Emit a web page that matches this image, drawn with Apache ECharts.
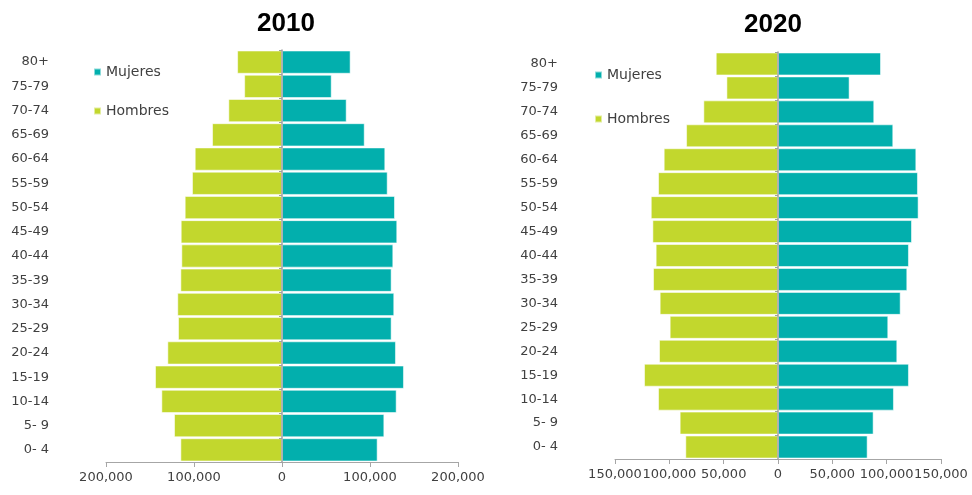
<!DOCTYPE html>
<html>
<head>
<meta charset="utf-8">
<script src="https://cdn.jsdelivr.net/npm/echarts@6/dist/echarts.min.js"></script>
<style>
  html, body { margin: 0; padding: 0; background: #fff; }
  #chart { width: 972px; height: 495px; }
</style>
</head>
<body>
<div id="chart"></div>
<script>
// grupos de edad (de abajo hacia arriba)
const ageGroups = ['0- 4', '5- 9', '10-14', '15-19', '20-24', '25-29', '30-34', '35-39',
  '40-44', '45-49', '50-54', '55-59', '60-64', '65-69', '70-74', '75-79', '80+'];

// 2010
const hombres2010 = [115500, 122700, 137100, 144300, 130300, 118200, 119000, 115500,
  114400, 115100, 110600, 102300, 99200, 79500, 61000, 43000, 51000];
const mujeres2010 = [108700, 116300, 130300, 138600, 129500, 124600, 127600, 124600,
  126500, 131000, 128400, 120100, 117400, 94000, 73500, 56500, 78000];

// 2020
const hombres2020 = [85300, 90500, 110400, 123300, 109500, 99700, 108900, 115000,
  112600, 115600, 117100, 110400, 105200, 84600, 68700, 47500, 57300];
const mujeres2020 = [82500, 88000, 106700, 120500, 109800, 101500, 112900, 119000,
  120500, 123300, 129400, 128800, 127300, 106100, 88600, 65900, 94800];

const GREEN = '#c2d72d';
const TEAL = '#02afad';
const TXT = '#404040';
const FONT = 'DejaVu Sans';

const chart = echarts.init(document.getElementById('chart'));

const fmt = v => Math.abs(v).toLocaleString('en-US');

function xAxisFor(idx, lim, step) {
  return {
    type: 'value', gridIndex: idx, min: -lim, max: lim, interval: step,
    splitLine: { show: false },
    axisLine: { show: true, lineStyle: { color: '#a6a6a6' } },
    axisTick: { show: true, length: 5, lineStyle: { color: '#a6a6a6' } },
    axisLabel: { color: TXT, fontFamily: FONT, fontSize: 13, margin: 9, formatter: fmt }
  };
}

function yAxesFor(idx) {
  return [
    {
      type: 'category', gridIndex: idx, data: ageGroups,
      axisLine: { show: false }, axisTick: { show: false },
      axisLabel: { color: TXT, fontFamily: FONT, fontSize: 13, margin: 57 }
    },
    {
      // linea central en x = 0
      type: 'category', gridIndex: idx, data: ageGroups, position: 'left', z: 10,
      axisLine: { show: true, onZero: true, onZeroAxisIndex: idx, lineStyle: { color: '#a0a0a0', width: 1.5 } },
      axisTick: { show: true, length: 3, lineStyle: { color: '#a0a0a0' } },
      axisLabel: { show: false }
    }
  ];
}

function barSeries(name, data, idx, yIdx, color) {
  return {
    name, type: 'bar', data, xAxisIndex: idx, yAxisIndex: yIdx,
    barCategoryGap: '4%',
    itemStyle: { color, borderColor: 'rgba(255,255,255,0.55)', borderWidth: 1 },
    emphasis: { disabled: true }
  };
}

function legendFor(left, top, gap) {
  return {
    orient: 'vertical', left, top, itemGap: gap,
    data: ['Mujeres', 'Hombres'],
    icon: 'rect', itemWidth: 7, itemHeight: 7,
    textStyle: { color: TXT, fontFamily: FONT, fontSize: 14 }
  };
}

chart.setOption({
  animation: false,
  title: [
    { text: '2010', left: 252, top: 6, textStyle: { fontFamily: 'Liberation Sans', fontWeight: 'bold', fontSize: 26, color: '#000' } },
    { text: '2020', left: 739, top: 7, textStyle: { fontFamily: 'Liberation Sans', fontWeight: 'bold', fontSize: 26, color: '#000' } }
  ],
  legend: [legendFor(88, 60, 25), legendFor(589, 63, 30)],
  grid: [
    { left: 106, right: 514, top: 50, bottom: 33 },
    { left: 615, right: 31, top: 52, bottom: 36 }
  ],
  xAxis: [xAxisFor(0, 200000, 100000), xAxisFor(1, 150000, 50000)],
  yAxis: [...yAxesFor(0), ...yAxesFor(1)],
  series: [
    barSeries('Hombres', hombres2010.map(v => -v), 0, 0, GREEN),
    barSeries('Mujeres', mujeres2010, 0, 1, TEAL),
    barSeries('Hombres', hombres2020.map(v => -v), 1, 2, GREEN),
    barSeries('Mujeres', mujeres2020, 1, 3, TEAL)
  ]
});
</script>
</body>
</html>
